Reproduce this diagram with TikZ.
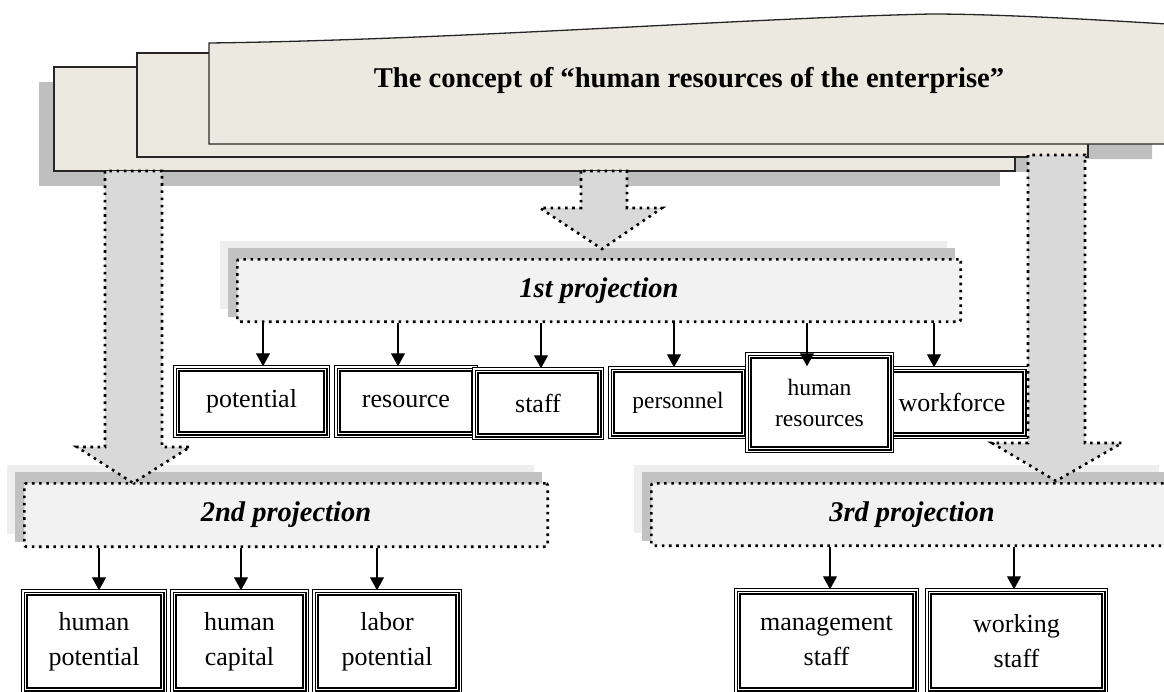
\documentclass[tikz,border=0pt]{standalone}
\usepackage{fontspec}
\setmainfont{Liberation Serif}
\usetikzlibrary{arrows.meta,backgrounds}

\definecolor{sheetfill}{RGB}{236,234,224}
\definecolor{sheetshadow}{RGB}{191,191,191}
\definecolor{arrowfill}{RGB}{217,217,217}
\definecolor{projfill}{RGB}{242,242,242}
\definecolor{projshadow}{RGB}{194,194,194}
\definecolor{projhalo}{RGB}{238,238,238}

\tikzset{
	sheet/.style={draw=black!85, line width=1.3pt, fill=sheetfill},
	dotline/.style={line width=2.6pt, dash pattern=on 2.6pt off 4.6pt},
	bigarrow/.style={dotline, fill=arrowfill},
	projbox/.style={draw, dotline, fill=projfill, rounded corners=2pt, inner sep=0pt,
		font=\fontsize{28.5}{33}\selectfont\bfseries\itshape},
	tribox/.style={draw, fill=white, line width=1.1pt, double distance=1.4pt, inner sep=0pt,
		align=center, font=\fontsize{26}{35}\selectfont,
		path picture={\draw[line width=1.6pt] ([shift={(4pt,-4pt)}]path picture bounding box.north west)
			rectangle ([shift={(-4pt,4pt)}]path picture bounding box.south east);}},
	smalltext/.style={font=\fontsize{23.5}{31}\selectfont},
	arr/.style={line width=1.3pt, -{Triangle[length=13pt,width=14pt]}}
}

\begin{document}
\begin{tikzpicture}[x=1pt, y=-1pt]
	\useasboundingbox (0,0) rectangle (1164,691);

	% shadows of the sheets
	\fill[sheetshadow] (39,82) rectangle (1000,186);
	\fill[sheetshadow] (122,68) rectangle (1073,172);
	\fill[sheetshadow, shift={(-15,15)}] (209,144) -- (209,43) .. controls (450,40) and (750,18) .. (931,14)
		.. controls (1000,14) and (1100,20) .. (1167,24) -- (1167,144) -- cycle;

	% sheets
	\filldraw[sheet] (54,67) rectangle (1015,171);
	\filldraw[sheet] (137,53) rectangle (1088,157);
	\filldraw[sheet] (209,144) -- (209,43) .. controls (450,40) and (750,18) .. (931,14)
		.. controls (1000,14) and (1100,20) .. (1167,24) -- (1167,144) -- cycle;

	\node[anchor=base, font=\fontsize{28.6}{34}\selectfont\bfseries] (title) at (689,87)
		{The concept of “human resources of the enterprise”};

	% projections
	\node[projbox, minimum width=723.4pt, minimum height=62.4pt] (one) at (599,290.5) {1st projection};
	\node[projbox, minimum width=523.4pt, minimum height=63.4pt] (two) at (286,515) {2nd projection};
	\node[projbox, minimum width=521.4pt, minimum height=62.4pt] (three) at (912,514.5) {3rd projection};

	\begin{scope}[on background layer]
		\fill[projhalo] ([shift={(-16pt,17pt)}]one.north west) rectangle ([shift={(-15pt,14pt)}]one.south east);
		\fill[projshadow] ([shift={(-8pt,10pt)}]one.north west) rectangle ([shift={(-7pt,6pt)}]one.south east);
		\fill[projhalo] ([shift={(-16pt,17pt)}]two.north west) rectangle ([shift={(-15pt,14pt)}]two.south east);
		\fill[projshadow] ([shift={(-8pt,10pt)}]two.north west) rectangle ([shift={(-7pt,6pt)}]two.south east);
		\fill[projhalo] ([shift={(-16pt,17pt)}]three.north west) rectangle ([shift={(-15pt,14pt)}]three.south east);
		\fill[projshadow] ([shift={(-8pt,10pt)}]three.north west) rectangle ([shift={(-7pt,6pt)}]three.south east);
	\end{scope}

	% 1st projection
	\node[tribox, minimum width=153.4pt, minimum height=69.4pt] (pot) at (251.5,401.5) {potential};
	\node[tribox, minimum width=140.4pt, minimum height=69.4pt] (res) at (406,401.5) {resource};
	\node[tribox, minimum width=128.4pt, minimum height=69.4pt] (sta) at (538,403.5) {staff};
	\node[tribox, smalltext, minimum width=136.4pt, minimum height=69.4pt] (per) at (678,402.5) {personnel};
	\node[tribox, minimum width=150.4pt, minimum height=69.4pt] (wor) at (952,402.5) {workforce};
	\node[tribox, smalltext, minimum width=145.4pt, minimum height=97.4pt] (hum) at (819.5,402.5) {human\\resources};

	\draw[arr] ([xshift=11.5pt]pot.north |- one.south) -- ([xshift=11.5pt]pot.north);
	\draw[arr] ([xshift=-8pt]res.north |- one.south) -- ([xshift=-8pt]res.north);
	\draw[arr] ([xshift=3pt]sta.north |- one.south) -- ([xshift=3pt]sta.north);
	\draw[arr] ([xshift=-4pt]per.north |- one.south) -- ([xshift=-4pt]per.north);
	\draw[arr] ([xshift=-12.5pt]hum.north |- one.south) -- ([xshift=-12.5pt,yshift=-13pt]hum.north);
	\draw[arr] ([xshift=-18pt]wor.north |- one.south) -- ([xshift=-18pt]wor.north);

	% 2nd projection
	\node[tribox, minimum width=142.4pt, minimum height=101.4pt] (hpo) at (94,641.5) {human\\potential};
	\node[tribox, minimum width=135.4pt, minimum height=101.4pt] (hca) at (239.5,641.5) {human\\capital};
	\node[tribox, minimum width=146.4pt, minimum height=101.4pt] (lpo) at (387,641.5) {labor\\potential};

	\draw[arr] ([xshift=5pt]hpo.north |- two.south) -- ([xshift=5pt]hpo.north);
	\draw[arr] ([xshift=1.5pt]hca.north |- two.south) -- ([xshift=1.5pt]hca.north);
	\draw[arr] ([xshift=-10pt]lpo.north |- two.south) -- ([xshift=-10pt]lpo.north);

	% 3rd projection
	\node[tribox, minimum width=181.4pt, minimum height=102.4pt] (mst) at (826.5,641) {management\\staff};
	\node[tribox, minimum width=179.4pt, minimum height=102.4pt] (wst) at (1016.5,641) {working\\staff};

	\draw[arr] ([xshift=3.5pt]mst.north |- three.south) -- ([xshift=3.5pt]mst.north);
	\draw[arr] ([xshift=-2.5pt]wst.north |- three.south) -- ([xshift=-2.5pt]wst.north);

	% big arrows
	\filldraw[bigarrow] (105,171) -- (105,447) -- (77,447) -- (133,483) -- (190,447) -- (162,447) -- (162,171) -- cycle;
	\filldraw[bigarrow] (581,171) -- (581,208) -- (540,208) -- (602,249) -- (662,208) -- (627,208) -- (627,171) -- cycle;
	\filldraw[bigarrow] (1028,155) -- (1028,443) -- (992,443) -- (1056,481) -- (1122,443) -- (1085,443) -- (1085,155) -- cycle;
\end{tikzpicture}
\end{document}
